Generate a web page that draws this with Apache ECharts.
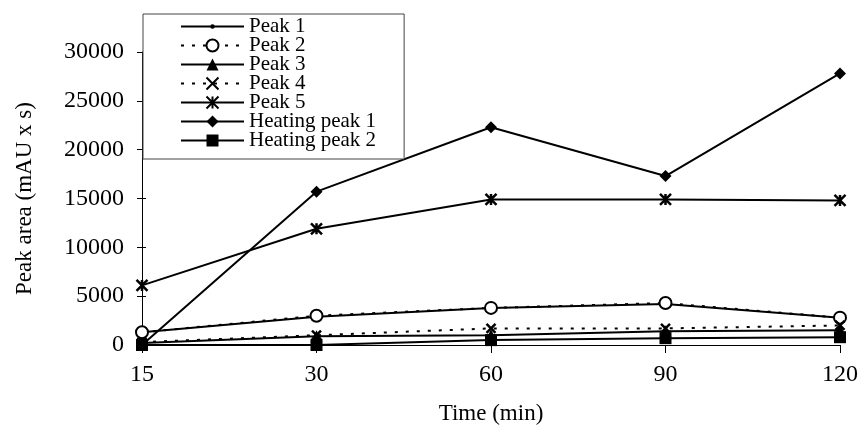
<!DOCTYPE html>
<html>
<head>
<meta charset="utf-8">
<script src="https://cdn.jsdelivr.net/npm/echarts@6/dist/echarts.min.js"></script>
<style>
html,body{margin:0;padding:0;background:#fff;}
#chart{width:861px;height:439px;}
</style>
</head>
<body>
<div id="chart"></div>
<script>
const categories = ['15', '30', '60', '90', '120'];
const peak1 = [1300, 2900, 3800, 4200, 2800];
const peak2 = [1300, 3000, 3800, 4300, 2800];
const peak3 = [200, 900, 1000, 1400, 1500];
const peak4 = [300, 1000, 1700, 1700, 2000];
const peak5 = [6100, 11900, 14900, 14900, 14800];
const heating1 = [0, 15700, 22300, 17300, 27800];
const heating2 = [0, 0, 500, 700, 800];
const yTicks = { min: 0, max: 30000, interval: 5000 };

const FONT = 'Liberation Serif';
const crossPath = 'path://M0,0L10,10M10,0L0,10';
const starPath = 'path://M5,0L5,10M0,0L10,10M10,0L0,10';
const peak1LegendIcon = 'path://M0,0L0.01,0M63,15L63.01,15M0,6.6L63,6.6L63,8.4L0,8.4ZM31.5,5.2A2.3,2.3,0,1,1,31.5,9.8A2.3,2.3,0,1,1,31.5,5.2Z';

function mk(name, data, symbol, size, dotted, opts) {
  return Object.assign({
    name: name,
    type: 'line',
    data: data,
    symbol: symbol,
    symbolSize: size,
    showSymbol: true,
    animation: false,
    lineStyle: { color: '#000', width: 2, type: dotted ? [3, 8] : 'solid' },
    itemStyle: { color: '#000', borderColor: '#000', borderWidth: 0 }
  }, opts || {});
}

const chart = echarts.init(document.getElementById('chart'), null, { renderer: 'canvas' });
chart.setOption({
  backgroundColor: '#fff',
  animation: false,
  grid: { left: 142, right: 19, top: 52, bottom: 94, containLabel: false },
  legend: {
    orient: 'vertical',
    left: 143,
    top: 14,
    padding: [2, 28, 8, 37],
    itemWidth: 63,
    itemHeight: 15,
    itemGap: -2,
    backgroundColor: '#fff',
    borderColor: '#444',
    borderWidth: 1,
    textStyle: { fontFamily: FONT, fontSize: 21, color: '#000', lineHeight: 19 },
    data: [
      { name: 'Peak 1', icon: peak1LegendIcon },
      'Peak 2', 'Peak 3', 'Peak 4', 'Peak 5', 'Heating peak 1', 'Heating peak 2'
    ]
  },
  xAxis: {
    type: 'category',
    data: categories,
    boundaryGap: false,
    name: 'Time (min)',
    nameLocation: 'middle',
    nameGap: 57,
    nameTextStyle: { fontFamily: FONT, fontSize: 23, color: '#000' },
    axisLine: { lineStyle: { color: '#000', width: 1 } },
    axisTick: { alignWithLabel: true, length: 8, lineStyle: { color: '#000' } },
    axisLabel: { fontFamily: FONT, fontSize: 24, color: '#000', margin: 18 },
    splitLine: { show: false }
  },
  yAxis: [{
    type: 'value',
    min: yTicks.min, max: yTicks.max, interval: yTicks.interval,
    name: 'Peak area (mAU x s)',
    nameLocation: 'middle',
    nameGap: 106,
    nameRotate: 90,
    nameTextStyle: { fontFamily: FONT, fontSize: 23, color: '#000' },
    axisLine: { show: true, lineStyle: { color: '#000', width: 1 } },
    axisTick: { show: true, length: 5, lineStyle: { color: '#000' } },
    axisLabel: { fontFamily: FONT, fontSize: 24, color: '#000', margin: 18, formatter: function (v) { return String(v); } },
    splitLine: { show: false }
  }, {
    type: 'value', position: 'left', offset: 0,
    min: yTicks.min, max: yTicks.max, interval: yTicks.interval,
    axisLine: { show: false },
    axisTick: { show: true, inside: true, length: 4, lineStyle: { color: '#000' } },
    axisLabel: { show: false },
    splitLine: { show: false }
  }],
  series: [
    mk('Peak 1', peak1, 'circle', 4, false),
    mk('Peak 2', peak2, 'emptyCircle', 12, true, { itemStyle: { color: '#000', borderWidth: 2 } }),
    mk('Peak 3', peak3, 'triangle', 12, false),
    mk('Peak 4', peak4, crossPath, 9, true, { itemStyle: { color: 'none', borderColor: '#000', borderWidth: 2.5 } }),
    mk('Peak 5', peak5, starPath, 11, false, { itemStyle: { color: 'none', borderColor: '#000', borderWidth: 2.5 } }),
    mk('Heating peak 1', heating1, 'diamond', 12, false),
    mk('Heating peak 2', heating2, 'rect', 12, false)
  ]
});
</script>
</body>
</html>
